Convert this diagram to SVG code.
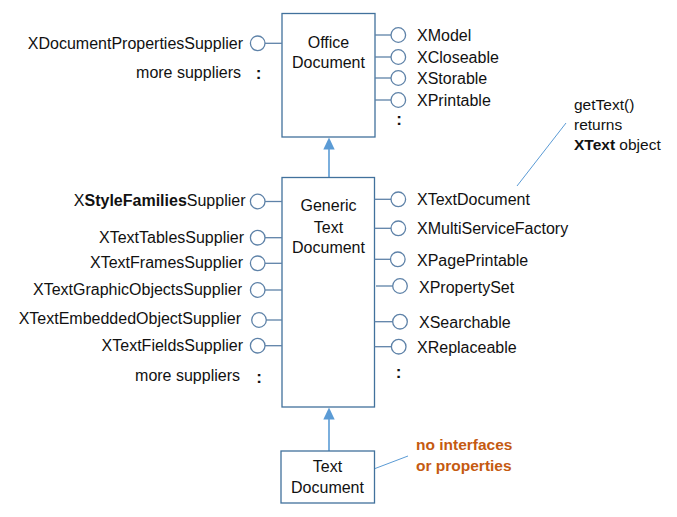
<svg xmlns="http://www.w3.org/2000/svg" width="677" height="517" viewBox="0 0 677 517">
<style>
text{font-family:"Liberation Sans",Arial,sans-serif;font-size:16px;fill:#111}
.l{text-anchor:end}
.c{text-anchor:middle}
.dots{font-weight:bold;text-anchor:middle;font-size:17px}
.box{fill:#fff;stroke:#41719C;stroke-width:1.3}
.ic{fill:#fff;stroke:#5E82A8;stroke-width:1.3}
.st{stroke:#5E82A8;stroke-width:1.3;fill:none}
.arr{stroke:#5B9BD5;stroke-width:1.6;fill:none}
.ah{fill:#5B9BD5}
.call{stroke:#5B9BD5;stroke-width:1;fill:none}
.org{fill:#C55A11;font-weight:bold;font-size:15.5px}
.note{font-size:15.5px}
</style>
<g id="connectors">
<line class="arr" x1="329" y1="177" x2="329" y2="148"/>
<polygon class="ah" points="329,137.5 323.3,149.5 334.7,149.5"/>
<line class="arr" x1="329" y1="451" x2="329" y2="418"/>
<polygon class="ah" points="329,407.5 323.3,419.5 334.7,419.5"/>
<line class="call" x1="517" y1="186" x2="566" y2="123"/>
<line class="call" x1="358" y1="475" x2="408" y2="456"/>
</g>
<g id="office-document">
<rect class="box" x="282" y="13.5" width="93" height="123.5"/>
<text class="c" x="328.5" y="47.5">Office</text>
<text class="c" x="328.5" y="68">Document</text>
<line class="st" x1="265" y1="43.3" x2="282" y2="43.3"/>
<circle class="ic" cx="257.7" cy="43.3" r="7.3"/>
<text class="l" x="243" y="48.7">XDocumentPropertiesSupplier</text>
<text class="l" x="241" y="78">more suppliers</text>
<text class="dots" x="258.5" y="79">:</text>
<line class="st" x1="375" y1="35" x2="391" y2="35"/>
<circle class="ic" cx="398.3" cy="35" r="7.3"/>
<text x="417" y="41">XModel</text>
<line class="st" x1="375" y1="57" x2="391" y2="57"/>
<circle class="ic" cx="398.3" cy="57" r="7.3"/>
<text x="417" y="63">XCloseable</text>
<line class="st" x1="375" y1="78" x2="391" y2="78"/>
<circle class="ic" cx="398.3" cy="78" r="7.3"/>
<text x="417" y="84">XStorable</text>
<line class="st" x1="375" y1="100" x2="391" y2="100"/>
<circle class="ic" cx="398.3" cy="100" r="7.3"/>
<text x="417" y="106">XPrintable</text>
<text class="dots" x="399" y="125">:</text>
</g>
<g id="generic-text-document">
<rect class="box" x="282" y="177.5" width="92.5" height="229.5"/>
<text class="c" x="328.5" y="211">Generic</text>
<text class="c" x="328.5" y="232.5">Text</text>
<text class="c" x="328.5" y="253">Document</text>
<line class="st" x1="265" y1="201.5" x2="282" y2="201.5"/>
<circle class="ic" cx="257.7" cy="201.5" r="7.3"/>
<text class="l" x="245.5" y="206">X<tspan font-weight="bold">StyleFamilies</tspan>Supplier</text>
<line class="st" x1="265" y1="237.7" x2="282" y2="237.7"/>
<circle class="ic" cx="257.7" cy="237.7" r="7.3"/>
<text class="l" x="244" y="243.3">XTextTablesSupplier</text>
<line class="st" x1="265" y1="263.3" x2="282" y2="263.3"/>
<circle class="ic" cx="257.7" cy="263.3" r="7.3"/>
<text class="l" x="243" y="268.3">XTextFramesSupplier</text>
<line class="st" x1="265" y1="290" x2="282" y2="290"/>
<circle class="ic" cx="257.7" cy="290" r="7.3"/>
<text class="l" x="242" y="295">XTextGraphicObjectsSupplier</text>
<line class="st" x1="266" y1="320" x2="282" y2="320"/>
<circle class="ic" cx="259" cy="320" r="7.3"/>
<text class="l" x="241" y="324.3">XTextEmbeddedObjectSupplier</text>
<line class="st" x1="265" y1="345.7" x2="282" y2="345.7"/>
<circle class="ic" cx="257.7" cy="345.7" r="7.3"/>
<text class="l" x="243" y="351">XTextFieldsSupplier</text>
<text class="l" x="240" y="381">more suppliers</text>
<text class="dots" x="259" y="383">:</text>
<line class="st" x1="374.5" y1="199.3" x2="391" y2="199.3"/>
<circle class="ic" cx="398.3" cy="199.3" r="7.3"/>
<text x="417" y="205">XTextDocument</text>
<line class="st" x1="374.5" y1="228.3" x2="391" y2="228.3"/>
<circle class="ic" cx="398.3" cy="228.3" r="7.3"/>
<text x="417" y="234">XMultiServiceFactory</text>
<line class="st" x1="374.5" y1="259.3" x2="390.5" y2="259.3"/>
<circle class="ic" cx="397.8" cy="259.3" r="7.3"/>
<text x="417" y="265.5">XPagePrintable</text>
<line class="st" x1="376" y1="286" x2="393" y2="286"/>
<circle class="ic" cx="400" cy="286" r="7.3"/>
<text x="419" y="292.5">XPropertySet</text>
<line class="st" x1="374.5" y1="321.7" x2="393" y2="321.7"/>
<circle class="ic" cx="400" cy="321.7" r="7.3"/>
<text x="419" y="327.7">XSearchable</text>
<line class="st" x1="374.5" y1="346.7" x2="391.5" y2="346.7"/>
<circle class="ic" cx="398.7" cy="346.7" r="7.3"/>
<text x="417" y="353.3">XReplaceable</text>
<text class="dots" x="398.5" y="378">:</text>
</g>
<g id="text-document">
<rect class="box" x="281" y="451" width="93.5" height="52"/>
<text class="c" x="327.5" y="472">Text</text>
<text class="c" x="327.5" y="493">Document</text>
</g>
<g id="note-gettext">
<text class="note" x="574" y="110">getText()</text>
<text class="note" x="574" y="130">returns</text>
<text class="note" x="574" y="150"><tspan font-weight="bold">XText</tspan> object</text>
</g>
<g id="note-text-document">
<text class="org" x="416" y="450">no interfaces</text>
<text class="org" x="416" y="471">or properties</text>
</g>
</svg>
